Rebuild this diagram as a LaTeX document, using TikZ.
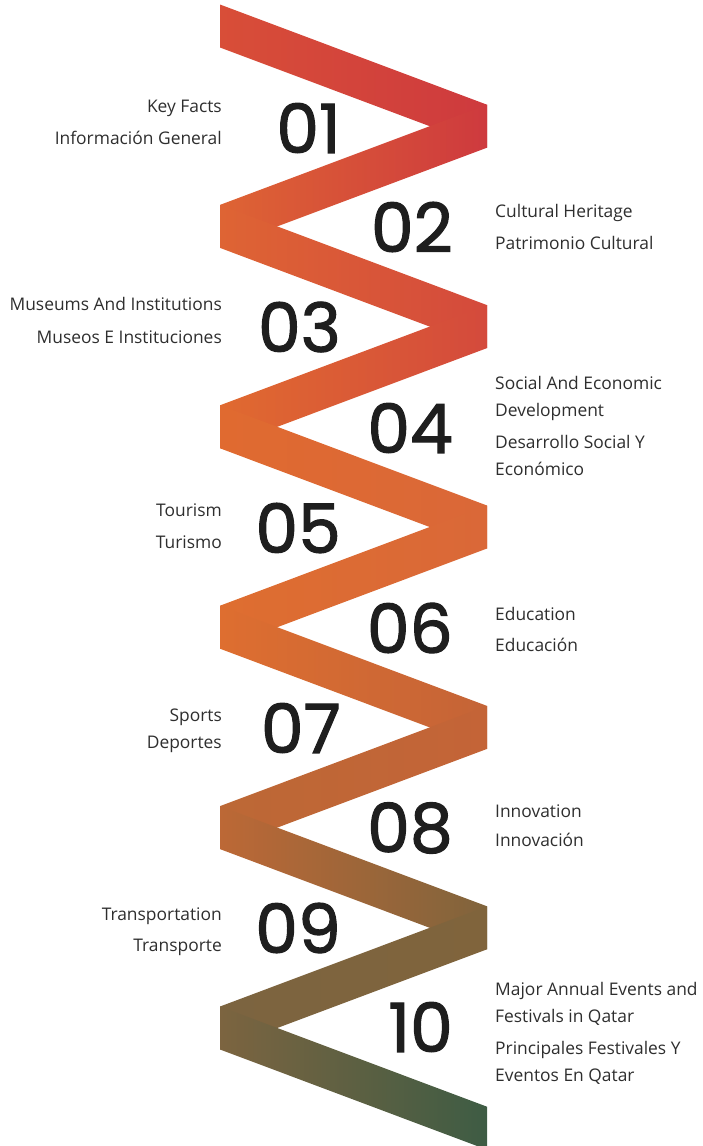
\documentclass[tikz,border=0pt]{standalone}
\usepackage{fontspec}
\setmainfont{Open Sans}
\newfontfamily\numfont[FakeBold=1.6]{Poppins}
\definecolor{ink}{HTML}{2E2E2E}
\definecolor{numink}{HTML}{1E1E1E}
% colours at the tips of the zigzag, top to bottom
\definecolor{zz0}{HTML}{D84E38}
\definecolor{zz1}{HTML}{CE3A3E}
\definecolor{zz2}{HTML}{DE6434}
\definecolor{zz3}{HTML}{D44A3C}
\definecolor{zz4}{HTML}{E06A30}
\definecolor{zz5}{HTML}{DA6838}
\definecolor{zz6}{HTML}{DE6E30}
\definecolor{zz7}{HTML}{C46437}
\definecolor{zz8}{HTML}{BC6836}
\definecolor{zz9}{HTML}{80643C}
\definecolor{zz10}{HTML}{7C6440}
\definecolor{zz11}{HTML}{3E5C44}

\begin{document}
\begin{tikzpicture}[x=1pt,y=-1pt,
  item/.style={text=ink,font=\fontsize{17.4}{27}\selectfont,inner sep=0pt},
  itemL/.style={item,anchor=base east,align=right},
  itemR/.style={item,anchor=base west,align=left},
  num/.style={text=numink,font=\numfont\fontsize{68}{68}\selectfont,inner sep=0pt,anchor=east}]
\useasboundingbox (0,0) rectangle (703,1146);
\clip (0,0) rectangle (703,1146);
% the zigzag band, one shaded leg at a time
\foreach \i in {0,...,10}{
  \pgfmathtruncatemacro{\j}{\i+1}
  \pgfmathsetmacro{\ya}{26+100.2*\i}
  \pgfmathsetmacro{\yb}{\ya+100.2}
  \ifodd\i
    \shade[left color=zz\j,right color=zz\i] (487,\ya-21.5) -- (220,\yb-21.5) -- (220,\yb+21.5) -- (487,\ya+21.5) -- cycle;
  \else
    \shade[left color=zz\i,right color=zz\j] (220,\ya-21.5) -- (487,\yb-21.5) -- (487,\yb+21.5) -- (220,\ya+21.5) -- cycle;
  \fi
}
% numbers
\foreach \n/\x/\y in {01/341/128,02/453/227,03/341/327,04/453/428,05/341/528,
  06/453/628,07/341/728,08/453/828,09/341/928,10/453/1027}
  \node[num] (n\n) at (\x,\y) {\n};
% left-hand labels
\node[itemL] (t01a) at (222,112) {Key Facts};
\node[itemL] (t01b) at (222,144) {Información General};
\node[itemL] (t03a) at (222,310) {Museums And Institutions};
\node[itemL] (t03b) at (222,343) {Museos E Instituciones};
\node[itemL] (t05a) at (222,516) {Tourism};
\node[itemL] (t05b) at (222,548) {Turismo};
\node[itemL] (t07a) at (222,721) {Sports};
\node[itemL] (t07b) at (222,748) {Deportes};
\node[itemL] (t09a) at (222,920) {Transportation};
\node[itemL] (t09b) at (222,951) {Transporte};
% right-hand labels (two-line ones sit on their last line)
\node[itemR] (t02a) at (495,217) {Cultural Heritage};
\node[itemR] (t02b) at (495,249) {Patrimonio Cultural};
\node[itemR] (t04a) at (495,416) {Social And Economic\\Development};
\node[itemR] (t04b) at (495,475) {Desarrollo Social Y\\Económico};
\node[itemR] (t06a) at (495,620) {Education};
\node[itemR] (t06b) at (495,651) {Educación};
\node[itemR] (t08a) at (495,817) {Innovation};
\node[itemR] (t08b) at (495,846) {Innovación};
\node[itemR] (t10a) at (495,1022) {Major Annual Events and\\Festivals in Qatar};
\node[itemR] (t10b) at (495,1081) {Principales Festivales Y\\Eventos En Qatar};
\end{tikzpicture}
\end{document}
